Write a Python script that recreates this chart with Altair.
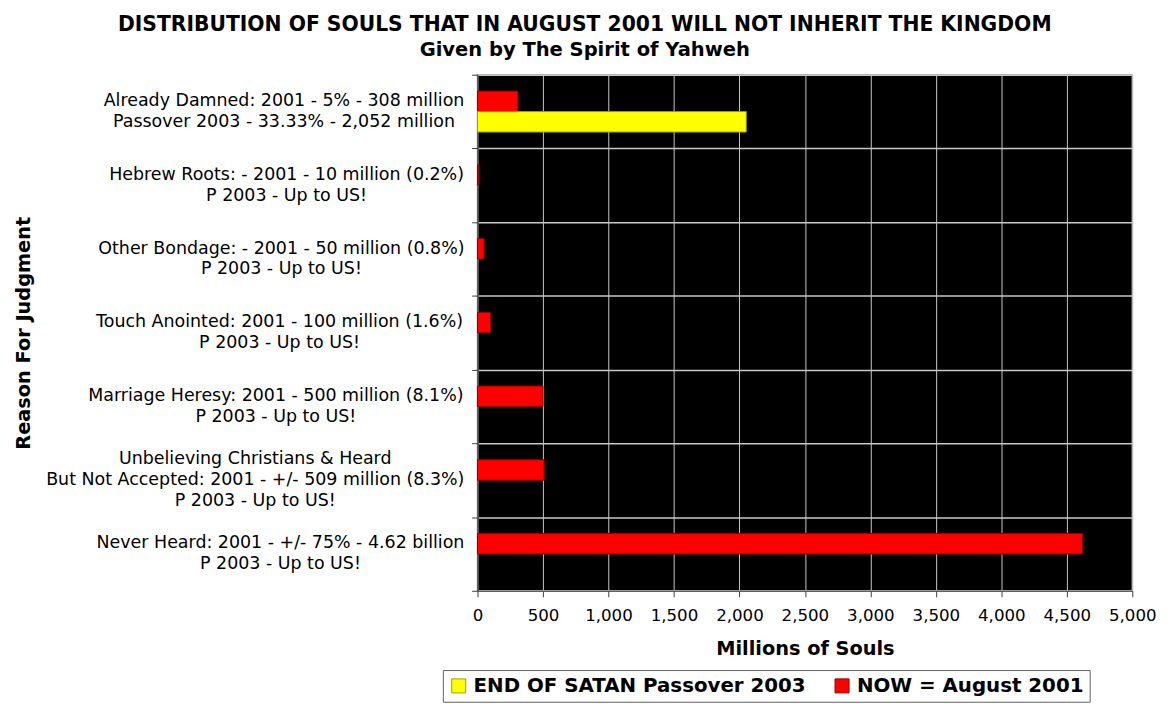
import altair as alt
import pandas as pd

# ---- data ----
category_lines = [
    ["Already Damned: 2001 - 5% - 308 million", "Passover 2003 - 33.33% - 2,052 million"],
    ["Hebrew Roots: - 2001 - 10 million (0.2%)", "P 2003 - Up to US!"],
    ["Other Bondage: - 2001 - 50 million (0.8%)", "P 2003 - Up to US!"],
    ["Touch Anointed: 2001 - 100 million (1.6%)", "P 2003 - Up to US!"],
    ["Marriage Heresy: 2001 - 500 million (8.1%)", "P 2003 - Up to US!"],
    ["Unbelieving Christians & Heard", "But Not Accepted: 2001 - +/- 509 million (8.3%)", "P 2003 - Up to US!"],
    ["Never Heard: 2001 - +/- 75% - 4.62 billion", "P 2003 - Up to US!"],
]
now_2001 = [308, 10, 50, 100, 500, 509, 4620]
end_2003 = [2052, None, None, None, None, None, None]

series_2003 = "END OF SATAN Passover 2003"
series_2001 = "NOW = August 2001"

FONT = "DejaVu Sans"
LABEL_SIZE = 17.6
LABEL_GAP = 13

# ---- approximate DejaVu Sans advance widths (units/2048), used only to centre label lines ----
_W = {" ": 651, "!": 821, "%": 1946, "&": 1597, "(": 799, ")": 799, "+": 1716, ",": 651,
      "-": 739, ".": 651, "/": 690, ":": 690,
      "A": 1401, "B": 1405, "C": 1430, "D": 1577, "E": 1294, "F": 1178, "G": 1587, "H": 1540,
      "I": 604, "J": 604, "K": 1343, "L": 1141, "M": 1767, "N": 1532, "O": 1612, "P": 1235,
      "Q": 1612, "R": 1423, "S": 1300, "T": 1251, "U": 1499, "V": 1401, "W": 2025, "X": 1403,
      "Y": 1251, "Z": 1403,
      "a": 1255, "b": 1300, "c": 1126, "d": 1300, "e": 1260, "f": 721, "g": 1300, "h": 1298,
      "i": 569, "j": 569, "k": 1186, "l": 569, "m": 1995, "n": 1298, "o": 1253, "p": 1300,
      "q": 1300, "r": 842, "s": 1067, "t": 803, "u": 1298, "v": 1212, "w": 1675, "x": 1212,
      "y": 1212, "z": 1075}
for d in "0123456789":
    _W[d] = 1303


def _tw(s):
    return sum(_W.get(c, 1250) for c in s) / 2048 * LABEL_SIZE


cat_keys = [" / ".join(l) for l in category_lines]

# bar table
rows = []
for key, v1, v3 in zip(cat_keys, now_2001, end_2003):
    rows.append({"cat": key, "series": series_2001, "value": v1})
    if v3 is not None:
        rows.append({"cat": key, "series": series_2003, "value": v3})
df = pd.DataFrame(rows)

# label-line table (each line centred within its block, block right-aligned to the axis)
slot_sets = {1: [3], 2: [2, 4], 3: [1, 3, 5]}
lrows = []
for key, lines in zip(cat_keys, category_lines):
    block_w = max(_tw(l) for l in lines)
    for s, line in zip(slot_sets[len(lines)], lines):
        lrows.append({"cat": key, "slot": s, "text": line, "lx": -(LABEL_GAP + block_w / 2)})
ldf = pd.DataFrame(lrows)

y_axis = alt.Axis(
    title="Reason For Judgment",
    titleFontSize=19.5,
    titleFontWeight="bold",
    titleFont=FONT,
    titleColor="black",
    titlePadding=442,
    labels=False,
    tickBand="extent",
    tickSize=6,
    tickColor="#404040",
    domainColor="#404040",
    domainWidth=1.5,
    grid=True,
    gridColor="#c8c8c8",
    gridWidth=1.5,
)
y_scale = alt.Scale(paddingInner=0, paddingOuter=0)

bars = alt.Chart(df).mark_bar(strokeWidth=1).encode(
    x=alt.X(
        "value:Q",
        scale=alt.Scale(domain=[0, 5000], nice=False),
        axis=alt.Axis(
            values=list(range(0, 5001, 500)),
            format=",d",
            title="Millions of Souls",
            titleFontSize=19.5,
            titleFontWeight="bold",
            titleFont=FONT,
            titleColor="black",
            titlePadding=16,
            labelFontSize=16.8,
            labelFont=FONT,
            labelColor="black",
            labelPadding=11,
            tickSize=6,
            tickColor="#404040",
            domainColor="#404040",
            gridColor="#c8c8c8",
            gridWidth=1,
            labelFlush=False,
        ),
    ),
    y=alt.Y("cat:N", sort=cat_keys, scale=y_scale, axis=y_axis),
    yOffset=alt.YOffset(
        "series:N",
        sort=[series_2001, series_2003],
        scale=alt.Scale(paddingInner=0, paddingOuter=0.8),
    ),
    color=alt.Color(
        "series:N",
        scale=alt.Scale(domain=[series_2003, series_2001], range=["#ffff00", "#ff0000"]),
        legend=alt.Legend(
            title=None,
            orient="none",
            legendX=-35,
            legendY=601,
            direction="horizontal",
            symbolType="square",
            symbolSize=200,
            symbolStrokeColor="black",
            symbolStrokeWidth=1,
            labelFont=FONT,
            labelFontSize=20,
            labelFontWeight="bold",
            labelColor="black",
            labelOffset=5,
            labelLimit=0,
            columnPadding=26,
            padding=6,
            strokeColor="#606060",
            fillColor="white",
        ),
    ),
    stroke=alt.Stroke(
        "series:N",
        scale=alt.Scale(domain=[series_2003, series_2001], range=["#a0a000", "#900000"]),
        legend=None,
    ),
)

label_text = alt.Chart(ldf).mark_text(
    align="center", baseline="middle", font=FONT, fontSize=LABEL_SIZE, color="black"
).encode(
    x=alt.X("lx:Q", scale=None),
    y=alt.Y("cat:N", sort=cat_keys, scale=y_scale, axis=y_axis),
    yOffset=alt.YOffset(
        "slot:O",
        scale=alt.Scale(type="point", domain=[0, 1, 2, 3, 4, 5, 6], padding=0.54),
    ),
    text="text:N",
)

chart = alt.layer(bars, label_text).resolve_scale(
    yOffset="independent"
).properties(
    width=661,
    height=521,
    background="white",
    padding={"left": 5, "top": 4, "right": 5, "bottom": 5},
    title=alt.Title(
        text="DISTRIBUTION OF SOULS THAT IN AUGUST 2001 WILL NOT INHERIT THE KINGDOM",
        subtitle="Given by The Spirit of Yahweh",
        anchor="middle",
        frame="bounds",
        font=FONT,
        fontSize=20.5,
        fontWeight="bold",
        color="black",
        subtitleFont=FONT,
        subtitleFontSize=19.7,
        subtitleFontWeight="bold",
        subtitleColor="black",
        subtitlePadding=4,
        offset=15,
    ),
).configure_view(
    fill="black",
    stroke="#a0a0a0",
    strokeWidth=1.5,
)

chart.save("out.html", embed_options={"renderer": "svg", "actions": False})
